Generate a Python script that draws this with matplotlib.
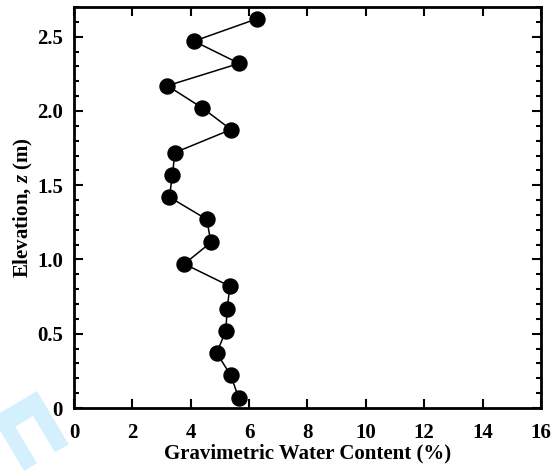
import numpy as np
import matplotlib
matplotlib.use("Agg")
import matplotlib.pyplot as plt
from matplotlib.patches import Polygon
from matplotlib.ticker import MultipleLocator

# Dane: zawartosc wody (%) i wysokosc (m)
water_content = [5.65, 5.37, 4.89, 5.20, 5.25, 5.34, 3.78, 4.69, 4.55,
                 3.27, 3.37, 3.46, 5.38, 4.40, 3.20, 5.66, 4.11, 6.26]
elevation = [0.065, 0.22, 0.37, 0.52, 0.67, 0.82, 0.97, 1.115, 1.27,
             1.42, 1.57, 1.72, 1.875, 2.02, 2.17, 2.32, 2.47, 2.62]
x_ticks = [0, 2, 4, 6, 8, 10, 12, 14, 16]
y_ticks = [0, 0.5, 1.0, 1.5, 2.0, 2.5]
y_tick_labels = ["0", "0.5", "1.0", "1.5", "2.0", "2.5"]

plt.rcParams["font.family"] = "Liberation Serif"
plt.rcParams["font.weight"] = "bold"
plt.rcParams["mathtext.fontset"] = "custom"
plt.rcParams["mathtext.it"] = "Liberation Serif:italic:bold"

fig = plt.figure(figsize=(5.53, 4.73), dpi=100)
ax = fig.add_axes([0.1338, 0.1374, 0.8445, 0.8478])

ax.plot(water_content, elevation, color="black", lw=1.1,
        marker="o", markersize=10.8, markerfacecolor="black",
        markeredgecolor="black", clip_on=False, zorder=3)

ax.set_xlim(0, 16)
ax.set_ylim(0, 2.7)
ax.set_xticks(x_ticks)
ax.set_xticklabels([str(t) for t in x_ticks])
ax.set_yticks(y_ticks)
ax.set_yticklabels(y_tick_labels)
ax.yaxis.set_minor_locator(MultipleLocator(0.1))

ax.tick_params(which="both", direction="in", top=True, right=True,
               width=1.5, labelsize=15)
ax.tick_params(which="major", length=6.5)
ax.tick_params(which="minor", length=3.5)
ax.tick_params(axis="x", pad=10.5)
ax.tick_params(axis="y", pad=8)
for s in ax.spines.values():
    s.set_linewidth(2)

ax.set_xlabel("Gravimetric Water Content (%)", fontsize=15,
              fontweight="bold", labelpad=1)
ax.set_ylabel("Elevation, $z$ (m)", fontsize=15, fontweight="bold",
              labelpad=1.5)

# znak wodny w lewym dolnym rogu (wspolrzedne w pikselach)
u = np.array([-0.859, -0.511])
v = np.array([0.511, -0.859])
apex = np.array([37.0, 82.0])
shape_uv = [(0, 0), (52, 0), (52, 62), (37, 62), (37, 19.5),
            (16, 19.5), (16, 62), (0, 62)]
pts = [apex + a * u + b * v for a, b in shape_uv]
wm = Polygon(pts, closed=True, transform=None,
             facecolor="#d4f0fc", edgecolor="none", zorder=-1)
fig.patches.append(wm)

fig.savefig("out.png", dpi=100)
